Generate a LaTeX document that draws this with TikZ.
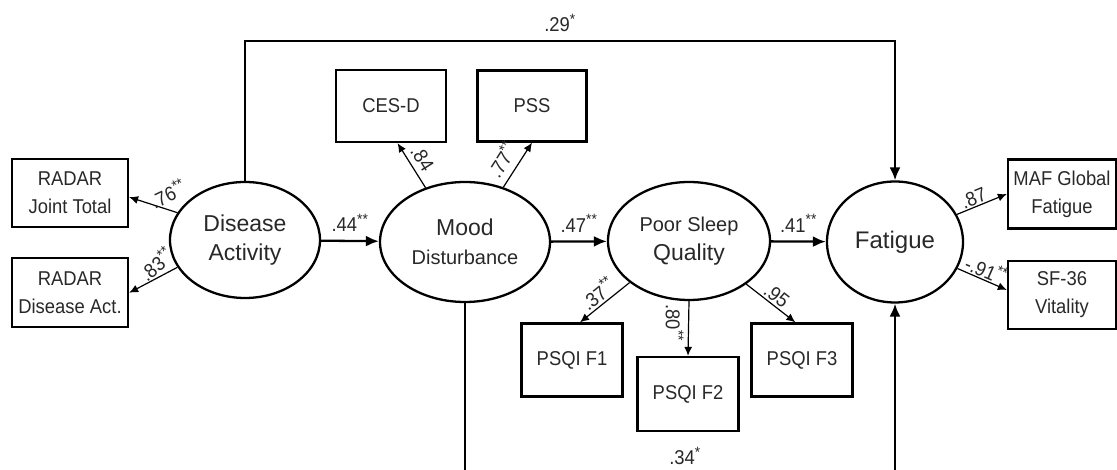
\documentclass[tikz,border=0pt]{standalone}
\usepackage{fontspec}
\setmainfont{Liberation Sans}
\newfontfamily\narrowfont[FakeStretch=0.92]{Liberation Sans}
\usetikzlibrary{shapes.geometric, arrows.meta, positioning}
\definecolor{ink}{RGB}{40, 40, 40}
\newcommand{\sig}[1]{\textsuperscript{\fontsize{15}{15}\selectfont#1}}

\tikzset{
  latent/.style={draw, ellipse, line width=2.3pt, inner sep=0pt, align=center, text=ink, font=\fontsize{23}{29}\selectfont},
  indicator/.style={draw, rectangle, line width=2.3pt, inner sep=0pt, align=center, text=ink, font=\narrowfont\fontsize{20}{28}\selectfont},
  structpath/.style={-{Latex[length=13pt, width=11pt]}, line width=2.3pt},
  loadpath/.style={-{Latex[length=9pt, width=8pt]}, line width=1.2pt},
  coef/.style={font=\narrowfont\fontsize{20}{22}\selectfont, text=ink, inner sep=1pt},
}

\begin{document}
\begin{tikzpicture}[x=1pt, y=1pt]
\useasboundingbox (0,0) rectangle (1117,470);

% latent factors
\node[latent, minimum width=150pt, minimum height=116pt] (da) at (245,230) {Disease\\Activity};
\node[latent, minimum width=170pt, minimum height=120pt] (md) at (465,228) {Mood\\{\fontsize{20}{28}\selectfont Disturbance}};
\node[latent, minimum width=162pt, minimum height=118pt] (psq) at (689,229) {{\fontsize{20}{28}\selectfont Poor Sleep}\\Quality};
\node[latent, minimum width=136pt, minimum height=121pt] (fat) at (895,228) {\fontsize{24}{29}\selectfont Fatigue};

% indicators
\node[indicator, minimum width=116pt, minimum height=68pt] (rjt) at (70,277) {RADAR\\Joint Total};
\node[indicator, minimum width=116pt, minimum height=69pt, below=29pt of rjt] (rda) {RADAR\\Disease Act.};
\node[indicator, minimum width=110pt, minimum height=72pt] (cesd) at (391,364) {CES-D};
\node[indicator, minimum width=109pt, minimum height=71pt] (pss) at (532,364) {PSS};
\node[indicator, minimum width=101pt, minimum height=73pt] (f1) at (572,110) {PSQI F1};
\node[indicator, minimum width=101pt, minimum height=74pt] (f2) at (688,76) {PSQI F2};
\node[indicator, minimum width=101pt, minimum height=73pt] (f3) at (802,110) {PSQI F3};
\node[indicator, minimum width=108pt, minimum height=69pt] (maf) at (1062,276) {MAF Global\\Fatigue};
\node[indicator, minimum width=108pt, minimum height=68pt, below=30pt of maf] (sf) {SF-36\\Vitality};

% structural paths
\coordinate (topbar) at (560,429);
\coordinate (botbar) at (685,-12);
\draw[structpath] (da) -- node[coef, above=7pt] {.44\sig{**}} (md);
\draw[structpath] (md) -- node[coef, above=7pt] {.47\sig{**}} (psq);
\draw[structpath] (psq) -- node[coef, above=7pt] {.41\sig{**}} (fat);
\draw[structpath] (da.north) |- (topbar) node[coef, above=7pt] {.29\sig{*}} -| (fat.north);
\begin{scope}
  \clip (0,0) rectangle (1117,470);
  \draw[structpath] (md.south) |- (botbar) node[coef, above=15pt] {.34\sig{*}} -| (fat.south);
\end{scope}

% loadings
\draw[loadpath] (da.158) -- node[coef, pos=0.2, yshift=16pt, rotate=25] {.76\sig{**}} (rjt.-4);
\draw[loadpath] (da.202) -- node[coef, pos=0.45, yshift=15pt, rotate=40] {.83\sig{**}} (rda.east);
\draw[loadpath] (md.126) -- node[coef, sloped, above=4pt] {.84} (cesd.-80);
\draw[loadpath] (md.55) -- node[coef, sloped, above=6pt, pos=0.42] {.77\sig{**}} (pss.south);
\draw[loadpath] (psq.215) -- node[coef, sloped, above=1pt] {.37\sig{**}} (f1.78);
\draw[loadpath] (psq.south) -- node[coef, pos=0.4, xshift=-14pt, rotate=-90] {.80\sig{**}} (f2.north);
\draw[loadpath] (psq.-37) -- node[coef, sloped, above=1pt] {.95} (f3.100);
\draw[loadpath] (fat.24) -- node[coef, sloped, above, pos=0.4] {.87} (maf.west);
\draw[loadpath] (fat.-23) -- node[coef, sloped, above] {-.91\sig{**}} (sf.175);
\end{tikzpicture}
\end{document}
